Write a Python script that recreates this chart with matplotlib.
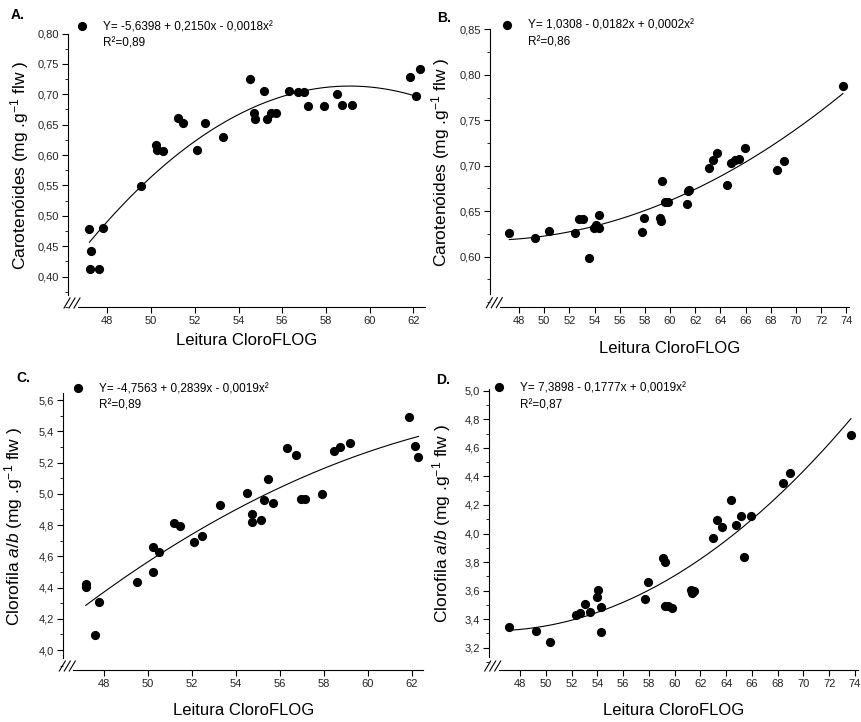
import matplotlib
matplotlib.use('Agg')
import matplotlib.pyplot as plt
import matplotlib.transforms as mtransforms
from matplotlib.lines import Line2D
from matplotlib.ticker import FuncFormatter, MultipleLocator
import numpy as np

plt.rcParams['font.family'] = ['Liberation Sans', 'DejaVu Sans']
plt.rcParams['mathtext.fontset'] = 'custom'
plt.rcParams['mathtext.rm'] = 'Liberation Sans'
plt.rcParams['mathtext.it'] = 'Liberation Sans:italic'

# A - carotenoids
xa = [47.18, 47.24, 47.19, 47.60, 47.82, 49.54, 50.21, 50.26, 50.53, 51.23, 51.46,
      52.10, 52.48, 53.28, 54.54, 54.73, 54.75, 55.15, 55.29, 55.49, 55.72, 56.33,
      56.72, 57.01, 57.17, 57.93, 58.49, 58.74, 59.18, 61.86, 62.12, 62.29]
ya = [0.479, 0.442, 0.412, 0.413, 0.480, 0.549, 0.616, 0.608, 0.606, 0.661, 0.653,
      0.609, 0.653, 0.629, 0.725, 0.670, 0.659, 0.706, 0.659, 0.670, 0.670, 0.706,
      0.704, 0.704, 0.680, 0.680, 0.700, 0.682, 0.683, 0.728, 0.697, 0.741]

# B - carotenoids
xb = [47.23, 49.30, 50.41, 52.45, 52.79, 53.11, 53.53, 53.98, 54.12, 54.35, 54.35,
      57.77, 57.96, 59.17, 59.31, 59.38, 59.60, 59.83, 61.34, 61.42, 61.53, 63.06,
      63.38, 63.70, 64.49, 64.84, 65.18, 65.50, 65.98, 68.47, 69.08, 73.73]
yb = [0.626, 0.620, 0.628, 0.626, 0.641, 0.641, 0.598, 0.631, 0.635, 0.646, 0.632,
      0.627, 0.643, 0.642, 0.639, 0.683, 0.660, 0.660, 0.658, 0.672, 0.673, 0.698,
      0.706, 0.714, 0.679, 0.703, 0.706, 0.707, 0.719, 0.695, 0.705, 0.788]

# C - chlorophyll a/b
xc = [47.17, 47.18, 47.58, 47.79, 49.51, 50.21, 50.24, 50.51, 51.19, 51.45, 52.08,
      52.46, 53.26, 54.52, 54.71, 54.73, 55.14, 55.27, 55.47, 55.70, 56.32, 56.72,
      56.98, 57.15, 57.92, 58.48, 58.73, 59.17, 61.86, 62.12, 62.30]
yc = [4.422, 4.401, 4.096, 4.305, 4.437, 4.501, 4.659, 4.625, 4.813, 4.796, 4.693,
      4.727, 4.926, 5.007, 4.868, 4.819, 4.832, 4.962, 5.097, 4.943, 5.293, 5.246,
      4.969, 4.964, 4.998, 5.271, 5.299, 5.327, 5.493, 5.306, 5.237]

# D - chlorophyll a/b
xd = [47.17, 49.22, 50.35, 52.32, 52.68, 53.02, 53.46, 53.95, 54.05, 54.26, 54.29,
      57.70, 57.91, 59.13, 59.25, 59.25, 59.51, 59.77, 61.27, 61.35, 61.51, 62.98,
      63.29, 63.65, 64.40, 64.77, 65.13, 65.39, 65.90, 68.39, 68.98, 73.69]
yd = [3.347, 3.319, 3.240, 3.431, 3.445, 3.509, 3.448, 3.553, 3.602, 3.483, 3.308,
      3.539, 3.658, 3.831, 3.798, 3.492, 3.492, 3.476, 3.604, 3.581, 3.600, 3.967,
      4.093, 4.046, 4.233, 4.060, 4.121, 3.838, 4.126, 4.357, 4.422, 4.687]

equations = ['Y= -5,6398 + 0,2150x - 0,0018x\u00b2', 'Y= 1,0308 - 0,0182x + 0,0002x\u00b2',
             'Y= -4,7563 + 0,2839x - 0,0019x\u00b2', 'Y= 7,3898 - 0,1777x + 0,0019x\u00b2']
r2_labels = ['R\u00b2=0,89', 'R\u00b2=0,86', 'R\u00b2=0,89', 'R\u00b2=0,87']
letters = ['A.', 'B.', 'C.', 'D.']
ylabel_car = 'Carotenóides (mg .g$^{-1}$ flw )'
ylabel_clo = 'Clorofila $a/b$ (mg .g$^{-1}$ flw )'

W, H = 861, 722
fig = plt.figure(figsize=(W / 100, H / 100), dpi=100)

# panel boxes in pixels: left, right, top, bottom
boxes = [(68, 425, 33.5, 307), (490.3, 849.3, 29.3, 306.7),
         (63.3, 423.3, 393.3, 670), (488.7, 858.3, 389.3, 670)]
xlims = [(46.2, 62.53), (45.72, 74.24), (46.15, 62.52), (45.57, 74.26)]
ylims = [(0.35, 0.80), (0.545, 0.85), (3.872, 5.643), (3.044, 5.01)]
ysteps = [0.05, 0.05, 0.2, 0.2]
ydec = [2, 2, 1, 1]
ytick_start = [0.40, 0.60, 4.0, 3.2]
ylab_x = [-0.104, -0.106, -0.106, -0.097]
xlab_y = [-0.095, -0.125, -0.119, -0.118]
leg_pos = [(0.0227, 1.045), (0.029, 1.034), (0.024, 1.037), (0.013, 1.025)]
letter_pos = [(11, 8), (437, 11), (16, 371), (436, 373)]

panels = [(xa, ya, ylabel_car), (xb, yb, ylabel_car), (xc, yc, ylabel_clo), (xd, yd, ylabel_clo)]

for i, (xs, ys, ylab) in enumerate(panels):
    l, r, t, b = boxes[i]
    ax = fig.add_axes([l / W, 1 - b / H, (r - l) / W, (b - t) / H])
    xs = np.array(xs)
    ys = np.array(ys)
    ax.plot(xs, ys, 'o', color='black', ms=5.6, zorder=3, clip_on=False)
    coef = np.polyfit(xs, ys, 2)
    xx = np.linspace(xs.min(), xs.max(), 200)
    ax.plot(xx, np.polyval(coef, xx), color='black', lw=0.8)

    ax.set_xlim(*xlims[i])
    ax.set_ylim(*ylims[i])
    ax.set_xticks(np.arange(48, xlims[i][1] + 0.01, 2))
    ax.set_yticks(np.arange(ytick_start[i], ylims[i][1] + 1e-6, ysteps[i]))
    ax.yaxis.set_minor_locator(MultipleLocator(ysteps[i] / 2))
    d = ydec[i]
    ax.yaxis.set_major_formatter(FuncFormatter(lambda v, p, d=d: f'{v:.{d}f}'.replace('.', ',')))
    ax.xaxis.set_major_formatter(FuncFormatter(lambda v, p: f'{v:.0f}'))
    ax.tick_params(which='major', direction='out', length=4.5, width=0.8,
                   labelsize=8, colors='black', labelcolor='#222222', pad=2)
    ax.tick_params(which='minor', direction='out', length=2, width=0.6)
    ax.tick_params(axis='x', which='minor', length=0)

    for s in ['top', 'right']:
        ax.spines[s].set_visible(False)
    x0, x1 = xlims[i]
    y0, y1 = ylims[i]
    ax.spines['left'].set_bounds(y0 + 0.045 * (y1 - y0), y1)
    ax.spines['bottom'].set_bounds(x0 + 0.028 * (x1 - x0), x1)
    ax.spines['left'].set_linewidth(0.8)
    ax.spines['bottom'].set_linewidth(0.8)

    # axis break marks
    cx, cy = ax.transAxes.transform((0, 0))
    tr = mtransforms.Affine2D().translate(cx, cy)
    for dx in (-1, 4, 9):
        ax.plot([dx - 3, dx + 3], [-1, 9], color='black', lw=0.8,
                transform=tr, clip_on=False)

    ax.set_xlabel('Leitura CloroFLOG', fontsize=12)
    ax.xaxis.set_label_coords(0.5, xlab_y[i])
    ax.set_ylabel(ylab, fontsize=12.5)
    ax.yaxis.set_label_coords(ylab_x[i], 0.52)

    handles = [Line2D([], [], marker='o', ls='', color='black', ms=5.6),
               Line2D([], [], ls='', marker='')]
    ax.legend(handles, [equations[i], r2_labels[i]], loc='upper left',
              bbox_to_anchor=leg_pos[i], frameon=False, fontsize=8.5,
              borderpad=0, borderaxespad=0, handlelength=1.0,
              handletextpad=1.28, labelspacing=0.4)

    fig.text(letter_pos[i][0] / W, 1 - letter_pos[i][1] / H, letters[i],
             fontsize=10, fontweight='bold', va='top', ha='left')

fig.savefig('out.png', dpi=100)
